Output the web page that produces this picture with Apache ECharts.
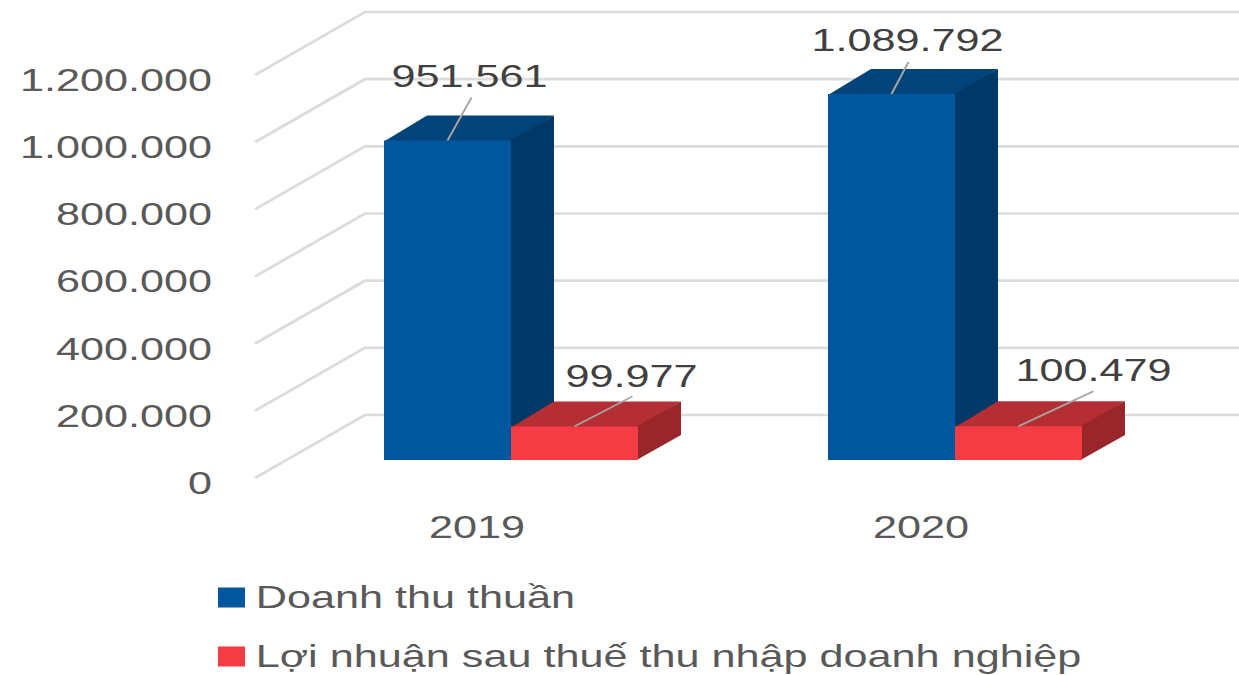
<!DOCTYPE html>
<html>
<head>
<meta charset="utf-8">
<style>
html, body { margin: 0; background: #fff; overflow: hidden; }
/* the reference is stretched sideways, so the chart is drawn narrow and scaled in x */
#main { width: 918px; height: 675px; transform: scaleX(1.35); transform-origin: 0 0; }
</style>
<script src="https://cdn.jsdelivr.net/npm/echarts@6/dist/echarts.min.js"></script>
</head>
<body>
<div id="main"></div>
<script>
var years = ['2019', '2020'];
var revenue = [951561, 1089792];
var profit = [99977, 100479];
var ticks = [0, 200000, 400000, 600000, 800000, 1000000, 1200000];
var seriesNames = ['Doanh thu thuần', 'Lợi nhuận sau thuế thu nhập doanh nghiệp'];

var S = 1.35;
var font = '"Liberation Sans", Arial, sans-serif';

function fmt(v) {
    return String(v).replace(/\B(?=(\d{3})+$)/g, '.');
}

var myChart = echarts.init(document.getElementById('main'), null, { renderer: 'svg' });

function wallItem(params, api) {
    var p = api.coord([0, api.value(0)]);
    var x = params.coordSys.x;
    var y = p[1];
    return {
        type: 'polyline',
        silent: true,
        shape: { points: [[x, y], [x + 110 / S, y - 63], [1300 / S, y - 63]] },
        style: { fill: 'none', stroke: '#dcdcdc', lineWidth: 2.6 }
    };
}

// side: -1 left of the category centre, 0 right of it
function barItem(colors, side, callouts) {
    return function (params, api) {
        var i = api.value(0);
        var p0 = api.coord([i, 0]);
        var p1 = api.coord([i, api.value(1)]);
        var w = 127 / S;
        var left = p0[0] + 34 / S + side * w;
        var right = left + w;
        var base = p0[1] - 18;
        var top = p1[1] - 18;
        var dx = 43 / S;
        var dy = -25;
        var mid = left + w / 2;
        var c = callouts[i];
        return {
            type: 'group',
            children: [{
                type: 'polygon',
                // runs a little under the front face so no seam shows
                shape: { points: [[left, top + 1], [left + dx, top + dy], [right + dx, top + dy], [right, top + 1]] },
                style: { fill: colors[1] }
            }, {
                type: 'polygon',
                shape: { points: [[right - 1, top], [right + dx, top + dy], [right + dx, base + dy], [right - 1, base]] },
                style: { fill: colors[2] }
            }, {
                type: 'rect',
                shape: { x: left, y: top, width: w, height: base - top },
                style: { fill: colors[0] }
            }, {
                type: 'line',
                shape: { x1: mid, y1: top, x2: mid + c[0] / S, y2: top + c[1] },
                style: { stroke: '#a6a6a6', lineWidth: 1.6 }
            }, {
                type: 'text',
                style: {
                    x: mid + c[2] / S,
                    y: top + c[3],
                    text: fmt(api.value(1)),
                    font: '32px ' + font,
                    fill: '#404040',
                    align: 'center',
                    verticalAlign: 'middle'
                }
            }]
        };
    };
}

var option = {
    animation: false,
    backgroundColor: '#fff',
    grid: { left: 255 / S, width: 888 / S, top: 75, height: 403 },
    legend: {
        orient: 'vertical',
        left: 218 / S,
        top: 580,
        padding: 0,
        itemWidth: 27 / S,
        itemHeight: 20,
        itemGap: 24,
        icon: 'rect',
        data: seriesNames,
        textStyle: { fontFamily: font, fontSize: 32, color: '#595959', lineHeight: 35, padding: [0, 0, 0, 3] }
    },
    xAxis: {
        type: 'category',
        data: years,
        axisLine: { show: false },
        axisTick: { show: false },
        splitLine: { show: false },
        axisLabel: { fontFamily: font, fontSize: 32, color: '#595959', margin: 33 }
    },
    yAxis: {
        type: 'value',
        min: 0,
        max: 1200000,
        interval: 200000,
        axisLine: { show: false },
        axisTick: { show: false },
        splitLine: { show: false },
        axisLabel: {
            fontFamily: font,
            fontSize: 32,
            color: '#595959',
            margin: 43 / S,
            // labels sit a few px below their tick in the reference
            verticalAlign: 'top',
            lineHeight: 10,
            formatter: fmt
        }
    },
    series: [{
        type: 'custom',
        name: 'wall',
        z: 1,
        renderItem: wallItem,
        encode: { y: 0 },
        data: ticks.map(function (t) { return [t]; })
    }, {
        type: 'custom',
        name: seriesNames[0],
        z: 2,
        itemStyle: { color: '#00579d' },
        renderItem: barItem(['#00579d', '#00447a', '#003968'], -1, [[24, -43, 22, -64], [17, -32, 16, -54]]),
        encode: { x: 0, y: 1 },
        data: years.map(function (y, i) { return [i, revenue[i]]; })
    }, {
        type: 'custom',
        name: seriesNames[1],
        z: 3,
        itemStyle: { color: '#f33c44' },
        renderItem: barItem(['#f33c44', '#b52e33', '#98262a'], 0, [[58, -30, 57, -50], [75, -35, 75, -56]]),
        encode: { x: 0, y: 1 },
        data: years.map(function (y, i) { return [i, profit[i]]; })
    }]
};
myChart.setOption(option);
</script>
</body>
</html>
